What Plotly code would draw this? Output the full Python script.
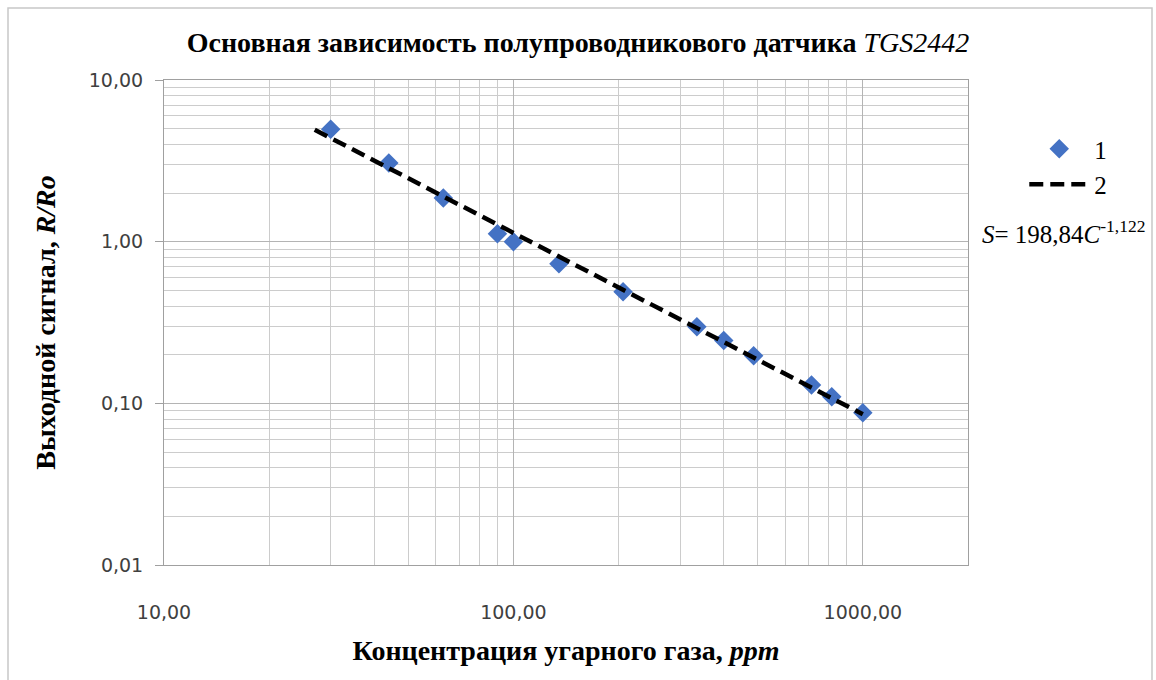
import numpy as np
import plotly.graph_objects as go

# Measured sensor response: CO concentration (ppm) vs R/Ro
conc_ppm = [30, 44, 63, 90, 100, 135, 206, 335, 400, 487, 713, 815, 1000]
signal_r_ro = [4.95, 3.07, 1.86, 1.12, 1.0, 0.73, 0.49, 0.298, 0.245, 0.197, 0.13, 0.11, 0.0875]

# Power-law fit S = A * C^B
fit_a = 198.84
fit_b = -1.122
fit_c_range = [27, 1000]

x_ticks = [10, 100, 1000]
x_tick_text = ["10,00", "100,00", "1000,00"]
y_ticks = [0.01, 0.1, 1, 10]
y_tick_text = ["0,01", "0,10", "1,00", "10,00"]

fit_c = np.array(fit_c_range, dtype=float)
fit_s = fit_a * fit_c ** fit_b

x_minor = [m * 10 ** d for d in range(1, 4) for m in range(2, 10) if m * 10 ** d < 2000]
y_minor = [m * 10.0 ** d for d in range(-2, 1) for m in range(2, 10)]

serif = "Liberation Serif, Times New Roman, serif"
sans = "DejaVu Sans, Arial, sans-serif"

fig = go.Figure()
fig.add_trace(go.Scatter(
    x=conc_ppm, y=signal_r_ro, mode="markers", name="1",
    marker=dict(symbol="diamond", size=15, color="#4472C4"),
))
fig.add_trace(go.Scatter(
    x=fit_c, y=fit_s, mode="lines", name="2",
    line=dict(color="black", width=4.5, dash="14px,7px"),
))

fig.update_layout(
    width=1156, height=680,
    margin=dict(l=164, r=188, t=80, b=115),
    paper_bgcolor="white", plot_bgcolor="white",
    title=dict(
        text="<b>Основная зависимость полупроводникового датчика</b> <i>TGS2442</i>",
        x=0.5, xanchor="center", y=0.938, yanchor="middle",
        font=dict(family=serif, size=28, color="black"),
    ),
    legend=dict(
        x=1.07, y=0.905, xanchor="left", yanchor="top",
        font=dict(family=serif, size=25, color="black"),
        bgcolor="rgba(0,0,0,0)", itemwidth=60, tracegroupgap=4,
    ),
    showlegend=True,
)

fig.update_xaxes(
    type="log", range=[1, np.log10(2000)],
    tickvals=x_ticks, ticktext=x_tick_text,
    tickfont=dict(family=sans, size=19, color="#404040"),
    ticks="", ticklabelstandoff=30,
    showgrid=True, gridcolor="#b4b4b4", gridwidth=1,
    minor=dict(tickvals=x_minor, showgrid=True, gridcolor="#cccccc", gridwidth=1),
    showline=True, linecolor="#a0a0a0", linewidth=1, mirror=True,
    zeroline=False,
    title=dict(
        text="<b>Концентрация угарного газа, <i>ppm</i></b>",
        font=dict(family=serif, size=28, color="black"), standoff=18,
    ),
)
fig.update_yaxes(
    type="log", range=[-2, 1],
    tickvals=y_ticks, ticktext=y_tick_text,
    tickfont=dict(family=sans, size=19, color="#404040"),
    ticks="outside", ticklen=8, tickcolor="#a0a0a0",
    ticklabelstandoff=8,
    showgrid=True, gridcolor="#b4b4b4", gridwidth=1,
    minor=dict(tickvals=y_minor, showgrid=True, gridcolor="#cccccc", gridwidth=1),
    showline=True, linecolor="#a0a0a0", linewidth=1, mirror=True,
    zeroline=False,
    title=dict(
        text="<b>Выходной сигнал, <i>R/Ro</i></b>",
        font=dict(family=serif, size=28, color="black"), standoff=24,
    ),
)

# Fit equation next to the legend
fig.add_annotation(
    xref="paper", yref="paper", x=(1064 - 164) / 804, y=0.687,
    xanchor="center", yanchor="middle",
    text="<i>S</i>= 198,84<i>C</i><sup>-1,122</sup>", showarrow=False,
    font=dict(family=serif, size=25, color="black"),
)

# Outer chart frame
fig.add_shape(
    type="rect", xref="paper", yref="paper",
    x0=(8 - 164) / 804, x1=(1152 - 164) / 804,
    y0=(565 - 700) / 485, y1=(565 - 8) / 485,
    line=dict(color="#c8c8c8", width=1.5), fillcolor="rgba(0,0,0,0)", layer="below",
)

fig.write_html("out.html")
